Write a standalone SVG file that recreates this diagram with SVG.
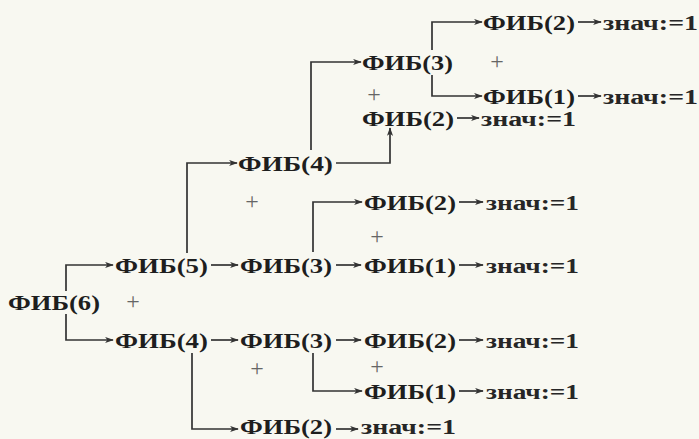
<svg xmlns="http://www.w3.org/2000/svg" width="699" height="439" viewBox="0 0 699 439">
  <style>
    .fib { font-family: "Liberation Serif", "Times New Roman", serif; font-weight: bold; font-size: 22px; fill: #1e1e1e; }
    .val { font-family: "Liberation Serif", "Times New Roman", serif; font-weight: bold; font-size: 20px; fill: #262626; }
    .plus { font-family: "Liberation Serif", "Times New Roman", serif; font-size: 24px; fill: #666; text-anchor: middle; }
    .call { fill: none; stroke: #333; stroke-width: 1.7; marker-end: url(#head); }
  </style>
  <defs>
    <marker id="head" viewBox="0 0 10 8" refX="9" refY="4" markerWidth="9" markerHeight="7" markerUnits="userSpaceOnUse" orient="auto">
      <path d="M0,0.5 L10,4 L0,7.5 L2.5,4 Z" fill="#333"/>
    </marker>
  </defs>
  <rect width="699" height="439" fill="#f8f8f1"/>

  <!-- call brackets and arrows -->
  <g id="connectors">
    <!-- FIB(6) splits into FIB(5) and FIB(4) -->
    <path class="call" d="M66,291 V265 H113"/>
    <path class="call" d="M66,314 V340 H113"/>
    <!-- FIB(5) -->
    <path class="call" d="M187,253 V163 H237"/>
    <path class="call" d="M211,265 H238"/>
    <!-- FIB(4), upper branch -->
    <path class="call" d="M311,150 V62 H361"/>
    <path class="call" d="M336,163 H390 V128"/>
    <!-- FIB(3), top -->
    <path class="call" d="M432,50 V22 H482"/>
    <path class="call" d="M432,75 V96 H482"/>
    <path class="call" d="M578,22 H601"/>
    <path class="call" d="M578,96 H601"/>
    <path class="call" d="M457,118 H479"/>
    <!-- FIB(3) on the FIB(5) line -->
    <path class="call" d="M313,252 V202 H362"/>
    <path class="call" d="M336,265 H361"/>
    <path class="call" d="M459,202 H483"/>
    <path class="call" d="M459,265 H483"/>
    <!-- FIB(4), lower branch -->
    <path class="call" d="M211,340 H238"/>
    <path class="call" d="M336,340 H361"/>
    <path class="call" d="M459,340 H483"/>
    <path class="call" d="M313,353 V391 H362"/>
    <path class="call" d="M459,391 H483"/>
    <path class="call" d="M192,353 V429 H238"/>
    <path class="call" d="M336,429 H358"/>
  </g>

  <!-- calls -->
  <g id="fib6"><text class="fib" x="8" y="310" textLength="92" lengthAdjust="spacingAndGlyphs">ФИБ(6)</text></g>
  <g id="fib5"><text class="fib" x="115" y="273" textLength="93" lengthAdjust="spacingAndGlyphs">ФИБ(5)</text></g>
  <g id="fib4-a"><text class="fib" x="238" y="171" textLength="95" lengthAdjust="spacingAndGlyphs">ФИБ(4)</text></g>
  <g id="fib3-a"><text class="fib" x="362" y="70" textLength="91" lengthAdjust="spacingAndGlyphs">ФИБ(3)</text></g>
  <g id="fib2-a"><text class="fib" x="483" y="30" textLength="92" lengthAdjust="spacingAndGlyphs">ФИБ(2)</text></g>
  <g id="fib1-a"><text class="fib" x="483" y="104" textLength="92" lengthAdjust="spacingAndGlyphs">ФИБ(1)</text></g>
  <g id="fib2-b"><text class="fib" x="362" y="126" textLength="92" lengthAdjust="spacingAndGlyphs">ФИБ(2)</text></g>
  <g id="fib3-b"><text class="fib" x="240" y="273" textLength="92" lengthAdjust="spacingAndGlyphs">ФИБ(3)</text></g>
  <g id="fib2-c"><text class="fib" x="364" y="210" textLength="92" lengthAdjust="spacingAndGlyphs">ФИБ(2)</text></g>
  <g id="fib1-b"><text class="fib" x="364" y="273" textLength="92" lengthAdjust="spacingAndGlyphs">ФИБ(1)</text></g>
  <g id="fib4-b"><text class="fib" x="115" y="348" textLength="93" lengthAdjust="spacingAndGlyphs">ФИБ(4)</text></g>
  <g id="fib3-c"><text class="fib" x="240" y="348" textLength="92" lengthAdjust="spacingAndGlyphs">ФИБ(3)</text></g>
  <g id="fib2-d"><text class="fib" x="364" y="348" textLength="92" lengthAdjust="spacingAndGlyphs">ФИБ(2)</text></g>
  <g id="fib1-c"><text class="fib" x="364" y="399" textLength="92" lengthAdjust="spacingAndGlyphs">ФИБ(1)</text></g>
  <g id="fib2-e"><text class="fib" x="240" y="434" textLength="92" lengthAdjust="spacingAndGlyphs">ФИБ(2)</text></g>

  <!-- results -->
  <g id="val-1"><text class="val" x="603" y="30" textLength="95" lengthAdjust="spacingAndGlyphs">знач:=1</text></g>
  <g id="val-2"><text class="val" x="603" y="104" textLength="95" lengthAdjust="spacingAndGlyphs">знач:=1</text></g>
  <g id="val-3"><text class="val" x="481" y="126" textLength="95" lengthAdjust="spacingAndGlyphs">знач:=1</text></g>
  <g id="val-4"><text class="val" x="486" y="210" textLength="93" lengthAdjust="spacingAndGlyphs">знач:=1</text></g>
  <g id="val-5"><text class="val" x="486" y="273" textLength="93" lengthAdjust="spacingAndGlyphs">знач:=1</text></g>
  <g id="val-6"><text class="val" x="486" y="348" textLength="93" lengthAdjust="spacingAndGlyphs">знач:=1</text></g>
  <g id="val-7"><text class="val" x="486" y="399" textLength="93" lengthAdjust="spacingAndGlyphs">знач:=1</text></g>
  <g id="val-8"><text class="val" x="361" y="434" textLength="95" lengthAdjust="spacingAndGlyphs">знач:=1</text></g>

  <!-- additions -->
  <g id="sums">
    <text class="plus" x="497" y="69">+</text>
    <text class="plus" x="374" y="102">+</text>
    <text class="plus" x="252" y="209">+</text>
    <text class="plus" x="377" y="244">+</text>
    <text class="plus" x="133" y="309">+</text>
    <text class="plus" x="257" y="376">+</text>
    <text class="plus" x="377" y="374">+</text>
  </g>
</svg>
